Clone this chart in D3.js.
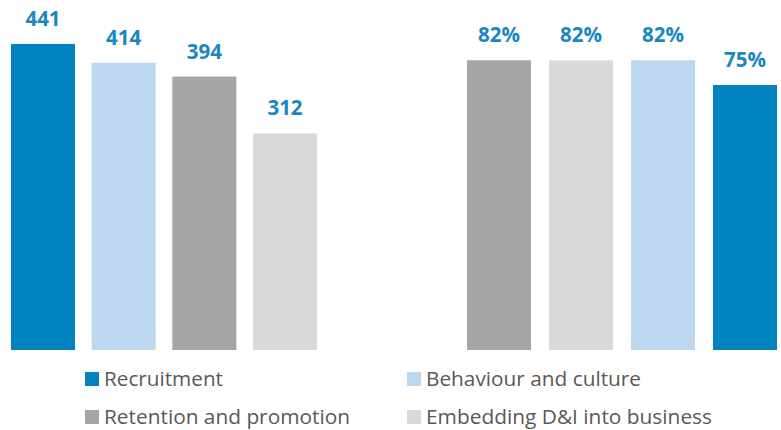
<!DOCTYPE html>
<html>
<head>
<meta charset="utf-8">
<script src="https://cdn.jsdelivr.net/npm/d3@7"></script>
<style>
  html, body { margin: 0; padding: 0; background: #ffffff; }
  svg { display: block; }
</style>
</head>
<body>
<svg id="chart" width="781" height="430"></svg>
<script>
// Focus areas shown in both panels
const categories = ["Recruitment", "Behaviour and culture", "Retention and promotion", "Embedding D&I into business"];
const colors = ["#0083BE", "#BDD7EE", "#A6A6A6", "#D9D9D9"];

// Left panel: counts
const countCategories = ["Recruitment", "Behaviour and culture", "Retention and promotion", "Embedding D&I into business"];
const countValues = [441, 414, 394, 312];

// Right panel: percentages
const pctCategories = ["Retention and promotion", "Embedding D&I into business", "Behaviour and culture", "Recruitment"];
const pctValues = [82, 82, 82, 75];

const svg = d3.select("#chart");
const color = d3.scaleOrdinal().domain(categories).range(colors);
const labelColor = "#1A87C0";
const baseline = 350;
const fontFamily = "'Open Sans', Lato, sans-serif";

function panel(cats, vals, xRange, padInner, yMax, yTop, fmt) {
  const x = d3.scaleBand().domain(cats).range(xRange).paddingInner(padInner).paddingOuter(0);
  const y = d3.scaleLinear().domain([0, yMax]).range([baseline, yTop]);
  const data = cats.map((c, i) => ({ c, v: vals[i] }));
  const g = svg.append("g");
  g.selectAll("rect").data(data).join("rect")
    .attr("x", d => x(d.c))
    .attr("width", x.bandwidth())
    .attr("y", d => y(d.v))
    .attr("height", d => y(0) - y(d.v))
    .attr("fill", d => color(d.c));
  g.selectAll("text").data(data).join("text")
    .attr("x", d => x(d.c) + x.bandwidth() / 2)
    .attr("y", d => y(d.v) - 18)
    .attr("text-anchor", "middle")
    .attr("font-family", fontFamily)
    .attr("font-weight", 700)
    .attr("font-size", 20.5)
    .attr("fill", labelColor)
    .text(d => fmt(d.v));
}

panel(countCategories, countValues, [11, 317], 0.2066, 500, 3, d => d3.format("d")(d));
panel(pctCategories, pctValues, [467, 777], 0.2195, 100, -3.3, d => d + "%");

// Legend, two columns by two rows
const legendPos = [
  { x: 85, y: 372 }, { x: 407, y: 372 },
  { x: 85, y: 410 }, { x: 407, y: 410 }
];
const legendWidths = [119, 215, 246, 286];
const lg = svg.append("g").selectAll("g").data(categories).join("g")
  .attr("transform", (d, i) => `translate(${legendPos[i].x},${legendPos[i].y})`);
lg.append("rect").attr("width", 14).attr("height", 14).attr("fill", d => color(d));
lg.append("text")
  .attr("x", 19)
  .attr("y", 14.2)
  .attr("font-family", fontFamily)
  .attr("font-size", 20)
  .attr("fill", "#595959")
  .attr("textLength", (d, i) => legendWidths[i])
  .attr("lengthAdjust", "spacingAndGlyphs")
  .text(d => d);
</script>
</body>
</html>
